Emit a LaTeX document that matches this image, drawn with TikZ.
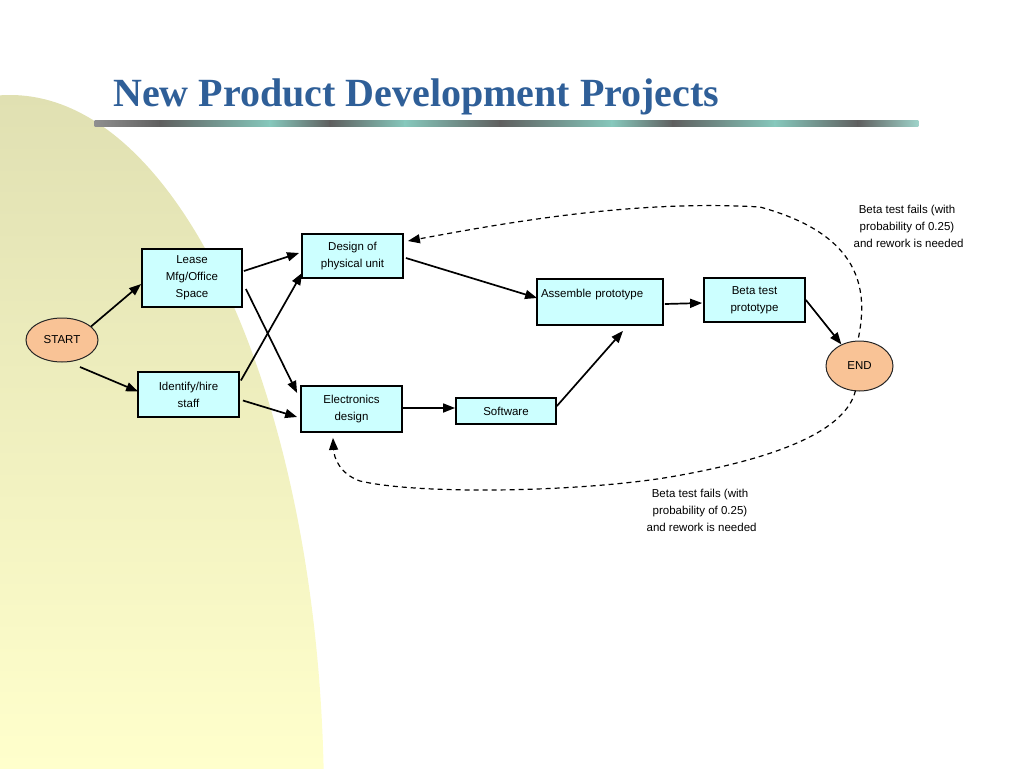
\documentclass[tikz,border=0pt]{standalone}
\usepackage{fontspec}
\setmainfont{Liberation Sans}
\newfontfamily\titlefont{Liberation Serif}
\usetikzlibrary{arrows.meta,calc,shapes.geometric}
\definecolor{boxfill}{HTML}{CCFFFF}
\definecolor{ovalfill}{HTML}{F9C396}
\definecolor{titleblue}{HTML}{2F5F98}
\definecolor{ruledark}{HTML}{5F5F5F}
\definecolor{ruleteal}{HTML}{86C8BC}
\definecolor{bgtop}{HTML}{E0E0B2}
\definecolor{bgbot}{HTML}{FFFFCC}
\tikzset{
  stepbox/.style={draw=black, line width=1.8pt, fill=boxfill, inner sep=2pt,
    font=\fontsize{11.5}{17}\selectfont, align=center},
  oval/.style={ellipse, draw=black!85, line width=1pt, fill=ovalfill, inner sep=0pt,
    font=\fontsize{11.5}{17}\selectfont},
  conn/.style={line width=1.7pt, -{Triangle[length=12pt,width=9pt]}},
  rework/.style={line width=1.2pt, dash pattern=on 5pt off 4pt, -{Triangle[length=12pt,width=9pt]}},
  note/.style={font=\fontsize{11.5}{17}\selectfont, align=center, inner sep=0pt}
}
\begin{document}
\begin{tikzpicture}[x=1pt,y=-1pt]
\useasboundingbox (0,0) rectangle (1024,768);
% background curved shape
\begin{scope}
  \clip (0,0) rectangle (1024,768);
  \clip (10,804) ellipse [x radius=314, y radius=709];
  \shade[top color=bgtop, bottom color=bgbot] (0,94) rectangle (330,768);
\end{scope}
% title
\node[anchor=base west, inner sep=0pt, text=titleblue, font=\titlefont\bfseries\fontsize{40}{44}\selectfont] (title) at (113,106) {New Product Development Projects};
% rule
\foreach \xa/\ca/\xb/\cb in {95/ruledark!70/160/ruledark, 160/ruledark/270/ruleteal, 270/ruleteal/330/ruledark,
  330/ruledark/405/ruleteal, 405/ruleteal/500/ruledark, 500/ruledark/612/ruleteal, 612/ruleteal/673/ruledark,
  673/ruledark/775/ruleteal, 775/ruleteal/858/ruledark, 858/ruledark/918/ruleteal!80}{
  \shade[left color=\ca, right color=\cb] (\xa-0.3,120.5) rectangle (\xb+0.3,126.5);
}
% nodes
\node[oval, minimum width=72pt, minimum height=44pt] (start) at (62,340) {START};
\node[oval, minimum width=67pt, minimum height=50pt] (end) at (859.5,366) {END};
\node[stepbox, minimum width=100pt, minimum height=58pt] (lease) at (192,278) {Lease\\Mfg/Office\\Space};
\node[stepbox, minimum width=101pt, minimum height=45pt] (hire) at (188.5,394.5) {Identify/hire\\staff};
\node[stepbox, minimum width=101pt, minimum height=44pt] (design) at (352.5,256) {Design of\\physical unit};
\node[stepbox, minimum width=101pt, minimum height=46pt] (elec) at (351.5,409) {Electronics\\design};
\node[stepbox, minimum width=126pt, minimum height=46pt, text width=118pt, align=left] (asm) at (600,302) {Assemble prototype\\\mbox{}};
\node[stepbox, minimum width=101pt, minimum height=44pt] (beta) at (754.5,300) {Beta test\\prototype};
\node[stepbox, minimum width=100pt, minimum height=26pt] (soft) at (506,411) {Software};
% notes
\node[note] (note1) at (907,226) {Beta test fails (with\\probability of 0.25)\\\ and rework is needed};
\node[note] (note2) at (700,510) {Beta test fails (with\\probability of 0.25)\\\ and rework is needed};
% connectors
\draw[conn] (start.25) -- ($(lease.west)+(0,6)$);
\draw[conn] ($(start.center)+(18,27)$) -- ($(hire.west)+(1,-3)$);
\draw[conn] ($(lease.east)+(1,-7)$) -- ($(design.west)+(-2,-3)$);
\draw[conn] ($(lease.east)+(3,11)$) -- ($(elec.west)+(-3,-16)$);
\draw[conn] ($(hire.east)+(1,-14)$) -- ($(design.south west)+(1,-6)$);
\draw[conn] ($(hire.east)+(3,6)$) -- ($(elec.west)+(-3,8)$);
\draw[conn] ($(design.east)+(2,2)$) -- ($(asm.west)+(1,-4)$);
\draw[conn] ($(elec.east)+(0,-1)$) -- ($(soft.west)+(0,-3)$);
\draw[conn] ($(soft.east)+(0,-5)$) -- ($(asm.south)+(23,5)$);
\draw[conn] ($(asm.east)+(1,2)$) -- ($(beta.west)+(-1,3)$);
\draw[conn] (beta.east) -- (end.130);
% rework loops
\draw[rework] ($(end.north)+(-1,-3)$) .. controls (868,290) and (862,235) .. (760,207)
   .. controls (640,200) and (520,220) .. ($(design.east)+(4,-15)$);
\draw[rework] ($(end.south)+(-4,-1)$) .. controls (846,430) and (780,458) .. (670,477)
   .. controls (580,492) and (420,495) .. (360,481)
   .. controls (340,474) and (334,458) .. ($(elec.south)+(-18.5,5)$);
\end{tikzpicture}
\end{document}
